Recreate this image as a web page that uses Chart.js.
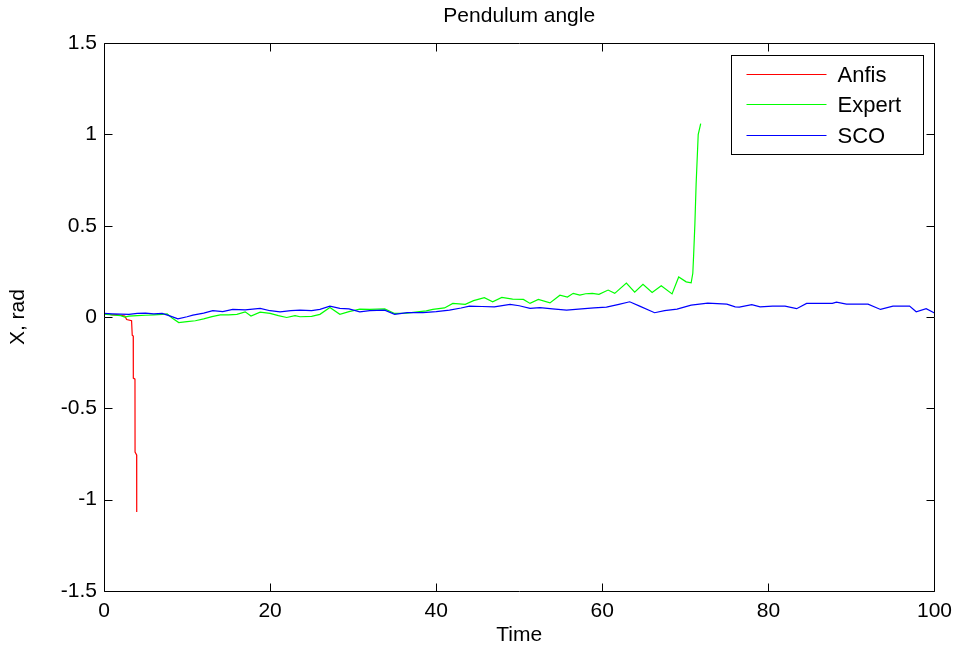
<!DOCTYPE html>
<html><head><meta charset="utf-8">
<script src="https://cdn.jsdelivr.net/npm/chart.js@4.4.1/dist/chart.umd.min.js"></script>
<style>html,body{margin:0;padding:0;background:#fff;}canvas{display:block;}</style>
</head><body>
<canvas id="c" width="960" height="650"></canvas>
<script>
const chartTitle = 'Pendulum angle';
const xAxisTitle = 'Time';
const yAxisTitle = 'X, rad';
const seriesNames = ['Anfis', 'Expert', 'SCO'];
const seriesColors = ['#ff0000', '#00ff00', '#0000ff'];
const xTicks = [0, 20, 40, 60, 80, 100];
const xTickLabels = ['0', '20', '40', '60', '80', '100'];
const yTicks = [-1.5, -1, -0.5, 0, 0.5, 1, 1.5];
const yTickLabels = ['-1.5', '-1', '-0.5', '0', '0.5', '1', '1.5'];

const anfisT = [0, 0.5, 1, 1.5, 2, 2.5, 2.73, 3.32, 3.4, 3.52, 3.53, 3.73, 3.74, 3.93, 3.94];
const anfisY = [0.02, 0.016, 0.012, 0.014, 0.01, 0.006, -0.013, -0.02, -0.099, -0.104, -0.334, -0.34, -0.739, -0.755, -1.067];

const expertT = [0, 1, 2, 2.5, 3, 4, 5, 6, 7, 7.6, 8.2, 9, 10, 11, 12, 13, 14, 15, 16, 17, 17.7, 18.8, 20, 21, 22, 23, 23.6, 25, 26, 27.2, 28.4, 29.5, 30.8, 32, 33.8, 35, 36.5, 38, 38.8, 39.6, 41, 42, 43.5, 44.5, 45.8, 46.8, 47.9, 49.2, 50.5, 51.3, 52.3, 53.7, 54.9, 55.8, 56.5, 57.3, 58, 58.8, 59.6, 60.7, 61.5, 62.9, 63.9, 64.9, 66, 67.1, 68.4, 69.2, 70.1, 70.7, 70.9, 71.0, 71.15, 71.3, 71.55, 71.85];
const expertY = [0.016, 0.012, 0.008, 0.0, 0.005, 0.008, 0.01, 0.012, 0.015, 0.018, -0.005, -0.03, -0.025, -0.02, -0.01, 0.003, 0.012, 0.012, 0.015, 0.029, 0.006, 0.027, 0.02, 0.008, -0.002, 0.008, 0.002, 0.004, 0.015, 0.053, 0.015, 0.03, 0.044, 0.042, 0.045, 0.02, 0.022, 0.03, 0.034, 0.042, 0.05, 0.075, 0.07, 0.09, 0.106, 0.084, 0.108, 0.098, 0.097, 0.075, 0.097, 0.078, 0.12, 0.11, 0.13, 0.12, 0.128, 0.13, 0.125, 0.148, 0.13, 0.186, 0.137, 0.18, 0.135, 0.172, 0.127, 0.22, 0.193, 0.188, 0.24, 0.34, 0.51, 0.73, 1.0, 1.06];

const scoT = [0, 1, 2, 3, 4, 5, 6, 7, 8, 8.9, 10, 10.7, 12, 13.1, 14.3, 15.5, 17, 18.8, 20, 21.2, 22.5, 23.6, 25, 26, 27.2, 28.4, 29.5, 30.8, 32, 33.8, 35, 36.5, 38.4, 40, 41.6, 43, 44, 45.5, 47, 48.9, 50, 51.3, 52.5, 54, 55.7, 57.5, 59, 60.5, 62, 63.3, 64.5, 66.3, 67.5, 69, 70.7, 72.7, 75, 76, 76.5, 78, 79, 80.5, 82, 83.4, 84.6, 86, 87.7, 88.2, 89.4, 92, 93.5, 95, 97, 97.8, 99, 100];
const scoY = [0.02, 0.018, 0.016, 0.015, 0.02, 0.022, 0.018, 0.02, 0.005, -0.01, 0.002, 0.011, 0.022, 0.035, 0.03, 0.042, 0.04, 0.048, 0.035, 0.029, 0.035, 0.038, 0.036, 0.042, 0.06, 0.048, 0.045, 0.029, 0.035, 0.038, 0.015, 0.025, 0.024, 0.03, 0.038, 0.05, 0.06, 0.058, 0.056, 0.07, 0.062, 0.048, 0.052, 0.045, 0.038, 0.045, 0.05, 0.055, 0.07, 0.084, 0.06, 0.024, 0.035, 0.044, 0.066, 0.077, 0.071, 0.056, 0.055, 0.068, 0.056, 0.06, 0.06, 0.046, 0.075, 0.075, 0.075, 0.082, 0.071, 0.071, 0.042, 0.06, 0.06, 0.029, 0.046, 0.022];

const FONT = '"Liberation Sans", Arial, Helvetica, sans-serif';
const seriesT = [anfisT, expertT, scoT];
const seriesY = [anfisY, expertY, scoY];

const datasets = seriesNames.map((name, i) => ({
  label: name,
  data: seriesT[i].map((t, k) => ({x: t, y: seriesY[i][k]})),
  borderColor: seriesColors[i],
  backgroundColor: seriesColors[i],
  borderWidth: 1.2,
  pointRadius: 0,
  tension: 0,
  fill: false,
  order: seriesNames.length - i
}));

const framePlugin = {
  id: 'frame',
  afterDatasetsDraw(chart) {
    const ctx = chart.ctx;
    const a = chart.chartArea;
    const xs = chart.scales.x, ys = chart.scales.y;
    const L = Math.round(a.left) + 0.5, R = Math.round(a.right) + 0.5;
    const T = Math.round(a.top) + 0.5, B = Math.round(a.bottom) + 0.5;
    ctx.save();
    ctx.strokeStyle = '#000';
    ctx.lineWidth = 1;
    ctx.beginPath();
    ctx.rect(L, T, R - L, B - T);
    const tl = 8;
    xTicks.forEach(v => {
      const px = Math.round(xs.getPixelForValue(v)) + 0.5;
      ctx.moveTo(px, B); ctx.lineTo(px, B - tl);
      ctx.moveTo(px, T); ctx.lineTo(px, T + tl);
    });
    yTicks.forEach(v => {
      const py = Math.round(ys.getPixelForValue(v)) + 0.5;
      ctx.moveTo(L, py); ctx.lineTo(L + tl, py);
      ctx.moveTo(R, py); ctx.lineTo(R - tl, py);
    });
    ctx.stroke();

    // legend box
    const bw = 192, bh = 99;
    const bx = Math.round(a.right - 11 - bw) + 0.5;
    const by = Math.round(a.top + 12) + 0.5;
    ctx.fillStyle = '#fff';
    ctx.fillRect(bx, by, bw, bh);
    ctx.strokeStyle = '#000';
    ctx.strokeRect(bx, by, bw, bh);
    ctx.font = '22px ' + FONT;
    ctx.textAlign = 'left';
    ctx.textBaseline = 'middle';
    chart.data.datasets.forEach((ds, i) => {
      const ry = Math.round(by + 18 + i * 30.7) + 0.5;
      ctx.strokeStyle = ds.borderColor;
      ctx.beginPath();
      ctx.moveTo(bx + 15, ry); ctx.lineTo(bx + 95, ry);
      ctx.stroke();
      ctx.fillStyle = '#000';
      ctx.fillText(ds.label, bx + 106, ry + 1);
    });
    ctx.restore();
  }
};

new Chart(document.getElementById('c').getContext('2d'), {
  type: 'line',
  data: {datasets},
  options: {
    responsive: false,
    animation: false,
    devicePixelRatio: 1,
    layout: {padding: {left: 0, right: 25, top: 0, bottom: 0}},
    plugins: {
      legend: {display: false},
      tooltip: {enabled: false},
      title: {
        display: true, text: chartTitle, color: '#000', fullSize: false,
        font: {family: FONT, size: 21, weight: 'normal'},
        padding: {top: 4, bottom: 14}
      }
    },
    scales: {
      x: {
        type: 'linear', min: 0, max: 100,
        grid: {display: false, drawTicks: false},
        border: {display: false},
        afterBuildTicks: s => { s.ticks = xTicks.map(v => ({value: v})); },
        afterFit: s => { s.height = 59; },
        ticks: {
          color: '#000', font: {family: FONT, size: 21}, padding: 8,
          maxRotation: 0, autoSkip: false,
          callback: (v, i) => xTickLabels[i]
        },
        title: {
          display: true, text: xAxisTitle, color: '#000',
          font: {family: FONT, size: 21}, padding: {top: 0, bottom: 2}
        }
      },
      y: {
        type: 'linear', min: -1.5, max: 1.5,
        grid: {display: false, drawTicks: false},
        border: {display: false},
        afterBuildTicks: s => { s.ticks = yTicks.map(v => ({value: v})); },
        afterFit: s => { s.width = 104; },
        ticks: {
          color: '#000', font: {family: FONT, size: 21}, padding: 7,
          autoSkip: false,
          callback: (v, i) => yTickLabels[i]
        },
        title: {
          display: true, text: yAxisTitle, color: '#000',
          font: {family: FONT, size: 21}, padding: {top: 6, bottom: 0}
        }
      }
    }
  },
  plugins: [framePlugin]
});
</script>
</body></html>
